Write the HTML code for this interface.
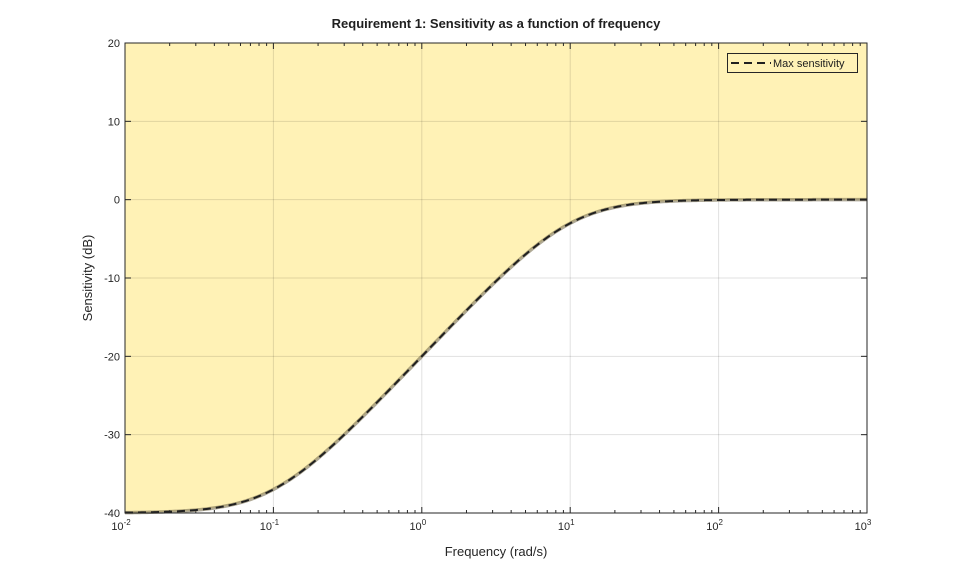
<!DOCTYPE html>
<html><head><meta charset="utf-8"><style>
body{margin:0;background:#fff;width:959px;height:577px;overflow:hidden}
svg{font-family:"Liberation Sans",Arial,sans-serif}
</style></head><body>
<svg id="s" width="959" height="577" xmlns="http://www.w3.org/2000/svg">
<text x="496" y="28" text-anchor="middle" font-size="13" font-weight="bold" fill="#202020">Requirement 1: Sensitivity as a function of frequency</text>
<g id="g"></g>
<text x="496" y="556" text-anchor="middle" font-size="13" fill="#262626">Frequency (rad/s)</text>
<text transform="translate(92,278) rotate(-90)" text-anchor="middle" font-size="13" fill="#262626">Sensitivity (dB)</text>
</svg>
<script>
var L=125,R=867,T=43,B=513,g=document.getElementById('g'),h='';
function X(w){return L+(Math.log10(w)+2)*(R-L)/5}
function Y(d){return T+(20-d)*(B-T)/60}
var pts=[];
for(var i=0;i<=400;i++){var lw=-2+5*i/400,w=Math.pow(10,lw);
var m=Math.sqrt((w*w+0.01)/(w*w+100));pts.push(X(w).toFixed(2)+','+Y(20*Math.log10(m)).toFixed(2));}
h+='<path d="M'+L+','+T+' L'+pts.join(' L')+' L'+R+','+T+'Z" fill="#fff2b6"/>';
for(var d=-2;d<=3;d++){var x=X(Math.pow(10,d));h+='<line x1="'+x+'" y1="'+T+'" x2="'+x+'" y2="'+B+'" stroke="#000" stroke-opacity="0.12"/>';
h+='<text x="'+(x-4)+'" y="'+(B+17)+'" text-anchor="middle" font-size="11" fill="#262626">10<tspan dy="-5" font-size="8">'+d+'</tspan></text>';
if(d<3)for(var k=2;k<10;k++){var xm=X(k*Math.pow(10,d));h+='<line x1="'+xm+'" y1="'+B+'" x2="'+xm+'" y2="'+(B-3)+'" stroke="#262626"/><line x1="'+xm+'" y1="'+T+'" x2="'+xm+'" y2="'+(T+3)+'" stroke="#262626"/>';}
h+='<line x1="'+x+'" y1="'+B+'" x2="'+x+'" y2="'+(B-6)+'" stroke="#262626"/><line x1="'+x+'" y1="'+T+'" x2="'+x+'" y2="'+(T+6)+'" stroke="#262626"/>';}
for(var v=-40;v<=20;v+=10){var y=Y(v);h+='<line x1="'+L+'" y1="'+y+'" x2="'+R+'" y2="'+y+'" stroke="#000" stroke-opacity="0.12"/>';
h+='<line x1="'+L+'" y1="'+y+'" x2="'+(L+6)+'" y2="'+y+'" stroke="#262626"/><line x1="'+R+'" y1="'+y+'" x2="'+(R-6)+'" y2="'+y+'" stroke="#262626"/>';
h+='<text x="'+(L-5)+'" y="'+(y+4)+'" text-anchor="end" font-size="11" fill="#262626">'+v+'</text>';}
h+='<polyline points="'+pts.join(' ')+'" fill="none" stroke="#7a7050" stroke-width="3.5" stroke-opacity="0.6"/>';
h+='<polyline points="'+pts.join(' ')+'" fill="none" stroke="#202020" stroke-width="2" stroke-dasharray="8,5"/>';
h+='<rect x="'+L+'" y="'+T+'" width="'+(R-L)+'" height="'+(B-T)+'" fill="none" stroke="#262626"/>';
h+='<rect x="727.5" y="53.5" width="130" height="19" fill="#fff2b6" stroke="#262626"/>';
h+='<line x1="731" y1="63" x2="771" y2="63" stroke="#202020" stroke-width="2" stroke-dasharray="8,5"/>';
h+='<text x="773" y="67" font-size="11" fill="#202020">Max sensitivity</text>';
g.innerHTML=h;
</script>
</body></html>
